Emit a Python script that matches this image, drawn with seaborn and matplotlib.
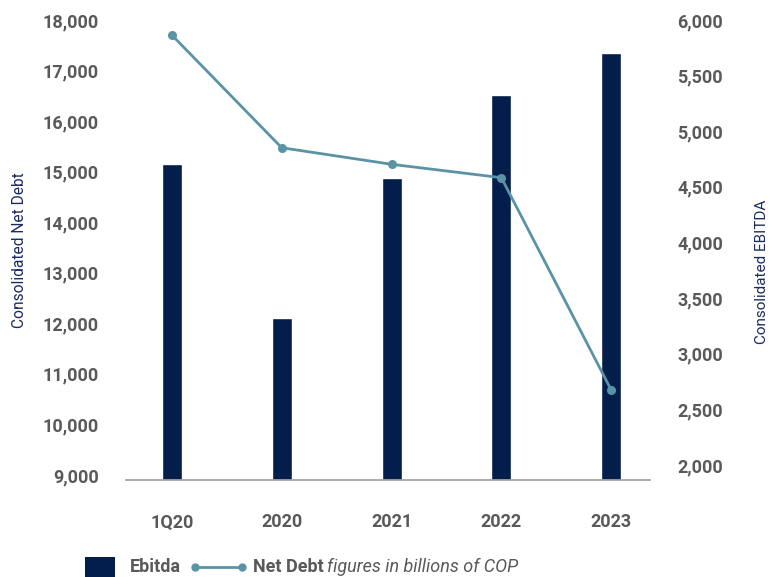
import matplotlib
matplotlib.use("Agg")
import matplotlib.pyplot as plt
import seaborn as sns
import pandas as pd
from matplotlib.patches import Rectangle
from matplotlib.lines import Line2D
from matplotlib.ticker import FuncFormatter, FixedLocator

# ---- data ----
categories = ["1Q20", "2020", "2021", "2022", "2023"]
ebitda = [4706, 3321, 4580, 5326, 5703]          # right axis (Consolidated EBITDA)
net_debt = [17703, 15474, 15146, 14881, 10681]   # left axis (Consolidated Net Debt)
left_ticks = [9000, 10000, 11000, 12000, 13000, 14000, 15000, 16000, 17000, 18000]
right_ticks = [2000, 2500, 3000, 3500, 4000, 4500, 5000, 5500, 6000]

NAVY = "#031E4A"
TEAL = "#5A93A5"
GRAY = "#595959"
LABEL_NAVY = "#1B2B5E"
AXIS_GRAY = "#A8A29E"

sns.set_theme(style="white")
plt.rcParams["font.family"] = ["Roboto", "DejaVu Sans"]

W, H = 780, 577
fig = plt.figure(figsize=(W / 100, H / 100), dpi=100)
fig.patch.set_facecolor("white")
ax = fig.add_axes([126 / W, 1 - 480 / H, (650 - 126) / W, (480 - 20) / H])
ax2 = ax.twinx()

df = pd.DataFrame({"period": categories, "ebitda": ebitda, "net_debt": net_debt})

# bars on the right axis
sns.barplot(data=df, x="period", y="ebitda", ax=ax2, color=NAVY,
            saturation=1, width=0.182, order=categories)
# line on the left axis
sns.pointplot(data=df, x="period", y="net_debt", ax=ax, color=TEAL,
              order=categories, markers="o", markersize=5, linewidth=2.0)

# draw line above bars
ax.set_zorder(ax2.get_zorder() + 1)
ax.patch.set_visible(False)

ax.set_xlim(-0.417, 4.353)
ax2.set_xlim(-0.417, 4.353)
ax.set_ylim(8901, 18000)
ax2.set_ylim(1865, 6000)

fmt = FuncFormatter(lambda v, p: f"{v:,.0f}")
ax.yaxis.set_major_locator(FixedLocator(left_ticks))
ax2.yaxis.set_major_locator(FixedLocator(right_ticks))
ax.yaxis.set_major_formatter(fmt)
ax2.yaxis.set_major_formatter(fmt)

for a in (ax, ax2):
    for s in a.spines.values():
        s.set_visible(False)
    a.grid(False)
    a.set_xlabel("")
    a.set_ylabel("")
    a.tick_params(axis="both", length=0, labelsize=13, labelcolor=GRAY)
ax.spines["bottom"].set_visible(True)
ax.spines["bottom"].set_color(AXIS_GRAY)
ax.spines["bottom"].set_linewidth(1.3)
ax.tick_params(axis="y", pad=19.5)
ax2.tick_params(axis="y", pad=19.5)
ax.tick_params(axis="x", pad=24)
ax2.tick_params(axis="x", labelbottom=False)
for lbl in ax.get_yticklabels() + ax2.get_yticklabels() + ax.get_xticklabels():
    lbl.set_fontweight("bold")

# axis titles
fig.text(20 / W, 1 - 250 / H, "Consolidated Net Debt", rotation=90,
         ha="center", va="center", fontsize=11.2, color=LABEL_NAVY)
fig.text(762 / W, 1 - 272 / H, "Consolidated EBITDA", rotation=90,
         ha="center", va="center", fontsize=11, color=LABEL_NAVY)

# legend (manual)
ly = 1 - 567 / H
fig.patches.append(Rectangle((85 / W, 0), 30 / W, 20 / H, transform=fig.transFigure,
                             facecolor=NAVY, edgecolor="none"))
fig.text(130 / W, ly, "Ebitda", ha="left", va="center", fontsize=13,
         fontweight="bold", color=GRAY)
fig.lines.append(Line2D([195 / W, 242 / W], [ly, ly], transform=fig.transFigure,
                        color=TEAL, linewidth=2.0, marker="o", markersize=5))
t_nd = fig.text(253 / W, ly, "Net Debt", ha="left", va="center", fontsize=13,
                fontweight="bold", color=GRAY)
fig.canvas.draw()
bb = t_nd.get_window_extent()
fig.text((bb.x1 + 3) / W, ly, "figures in billions of COP", ha="left", va="center",
         fontsize=13, fontstyle="italic", color=GRAY)

fig.savefig("out.png", dpi=100)
